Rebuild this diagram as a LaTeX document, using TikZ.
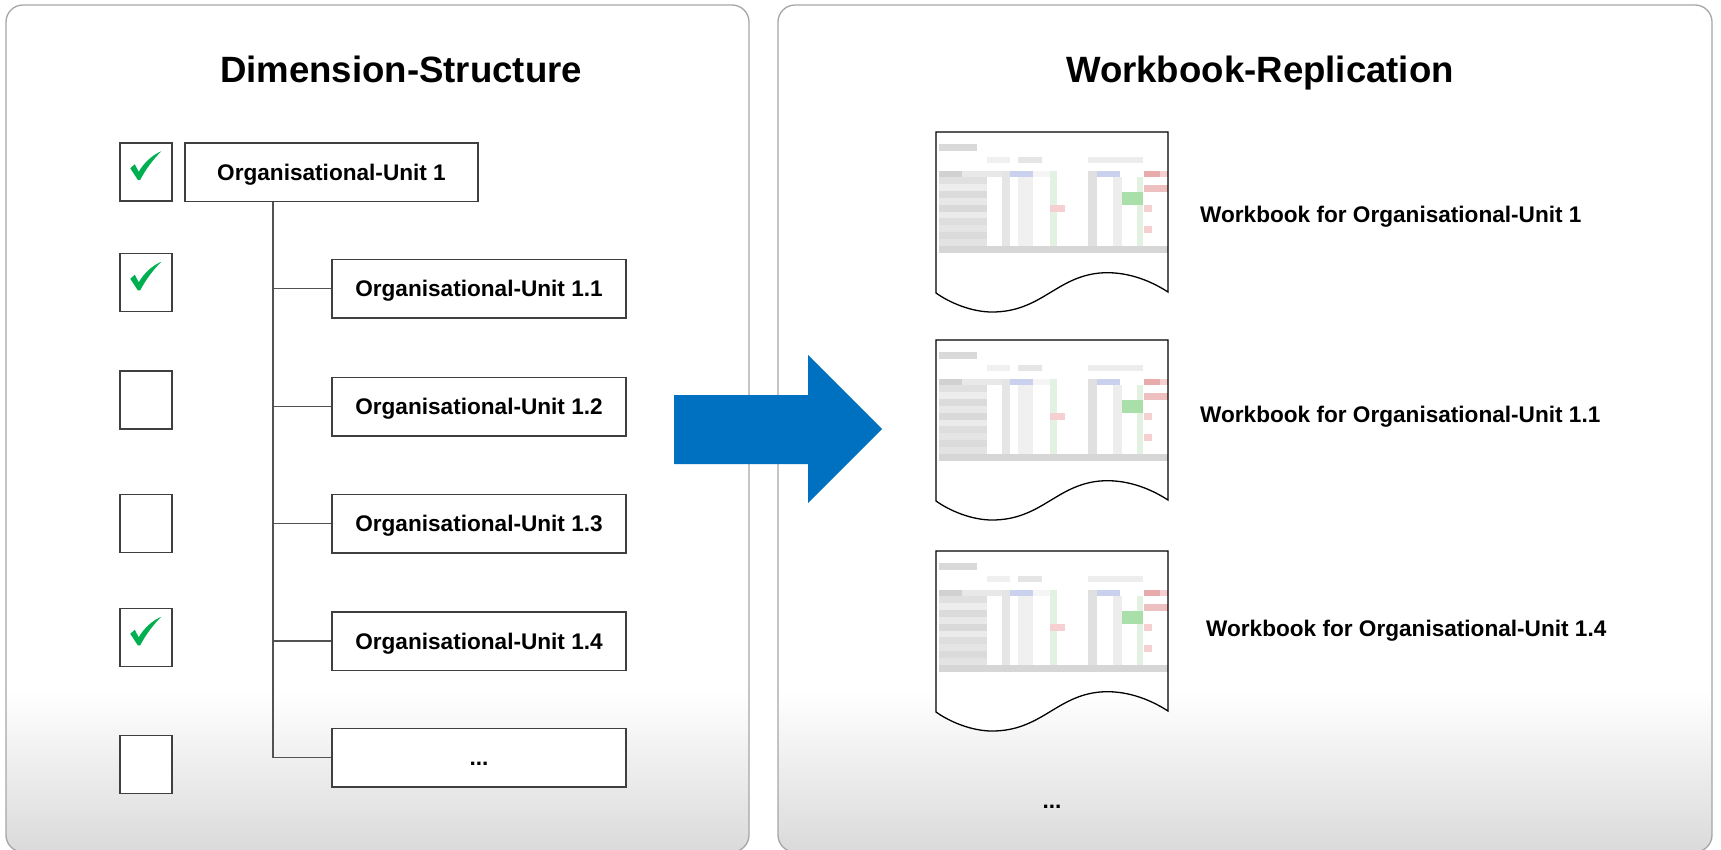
\documentclass[tikz,border=0pt]{standalone}
\usepackage{fontspec}
\setmainfont{Liberation Sans}
\definecolor{panelline}{HTML}{A6A6A6}
\definecolor{panelgray}{HTML}{DADADA}
\definecolor{boxline}{HTML}{3F3F3F}
\definecolor{tickgreen}{HTML}{00B050}
\definecolor{arrowblue}{HTML}{0070C0}
\definecolor{sblue}{HTML}{C9D1EF}
\definecolor{sred}{HTML}{E8ABAB}
\definecolor{spink}{HTML}{F6D0D0}
\definecolor{sgreen}{HTML}{A9E0A9}
\definecolor{slgreen}{HTML}{E2F1E2}
% white upper part of each panel, fading to light grey near the bottom
\pgfdeclareverticalshading{panelfade}{100bp}{color(0bp)=(panelgray); color(25bp)=(panelgray); color(34.5bp)=(white); color(100bp)=(white)}

% tiny spreadsheet preview inside a workbook symbol (local pixel coordinates)
\newcommand\sheetcells{%
  \fill[black!15] (3,12) rectangle (41,19);
  \fill[black!6] (51,25) rectangle (74,31);
  \fill[black!10] (82,25) rectangle (106,31);
  \fill[black!7] (152,25) rectangle (207,31);
  \fill[black!18] (3,39) rectangle (26,45);
  \fill[black!9] (26,39) rectangle (66,45);
  \foreach \s [count=\i from 0] in {12,7,14,9,15,8,13,10,14,11}
    \fill[black!\s] (3,45+6.9*\i) rectangle (51,51.9+6.9*\i);
  \fill[black!10] (66,39) rectangle (74,114);
  \fill[black!6] (82,45) rectangle (97,114);
  \fill[black!4] (97,39) rectangle (114,45);
  \fill[slgreen] (114,39) rectangle (121,114);
  \fill[black!12] (152,39) rectangle (161,114);
  \fill[black!7] (177,45) rectangle (186,114);
  \fill[slgreen] (201,45) rectangle (207,114);
  \fill[sblue] (74,39) rectangle (97,45);
  \fill[sblue] (161,39) rectangle (184,45);
  \fill[sred] (208,39) rectangle (224,45);
  \fill[spink] (224,39) rectangle (232,45);
  \fill[sred!75] (208,53) rectangle (232,60);
  \fill[slgreen] (201,53) rectangle (207,60);
  \fill[sgreen] (186,60) rectangle (207,73);
  \fill[spink] (114,73) rectangle (129,80);
  \fill[spink] (208,73) rectangle (216,80);
  \fill[spink] (208,94) rectangle (216,101);
  \fill[black!16] (3,114) rectangle (232,121);
}
% workbook symbol: page with a wavy lower edge
\newcommand\workbook[1]{%
  \begin{scope}[shift={#1}]
    \fill[white] (0,0) -- (232,0) -- (232,160)
      .. controls (212,147) and (188,139) .. (164,141)
      .. controls (120,145) and (105,180) .. (56,180)
      .. controls (36,180) and (14,171) .. (0,161) -- cycle;
    \sheetcells
    \draw[docline] (0,0) -- (232,0) -- (232,160)
      .. controls (212,147) and (188,139) .. (164,141)
      .. controls (120,145) and (105,180) .. (56,180)
      .. controls (36,180) and (14,171) .. (0,161) -- cycle;
  \end{scope}
}
% green tick inside a checkbox
\newcommand\tick[1]{%
  \fill[tickgreen,shift={(#1.north west)}] (11,26) -- (15.5,22) -- (19.5,29.5)
    .. controls (25,20) and (33,13) .. (42,9)
    .. controls (35,16) and (27,26) .. (21,37.5) -- (18.5,37.5) -- cycle;
}

\begin{document}
\begin{tikzpicture}[x=1pt,y=-1pt,
  panel/.style={shade,shading=panelfade,draw=panelline,line width=1.3pt,rounded corners=17pt},
  title/.style={font=\fontsize{36.6}{40}\selectfont\bfseries,anchor=base,inner sep=0pt},
  label/.style={font=\fontsize{22.6}{26}\selectfont\bfseries,text height=16.2pt,text depth=0pt,inner sep=0pt},
  cbox/.style={draw=boxline,fill=white,line width=1.5pt,minimum width=52pt,minimum height=58pt,inner sep=0pt},
  unit/.style={label,draw=boxline,fill=white,line width=1.5pt,minimum width=294pt,minimum height=58.5pt},
  conn/.style={draw=boxline!90,line width=1.3pt},
  docline/.style={draw=black,line width=1.3pt},
  bigarrow/.style={fill=arrowblue}]
\useasboundingbox (0,0) rectangle (1721,849);
\fill[white] (0,0) rectangle (1721,849);

% two panels
\path[panel] (6,5) rectangle (749,852);
\path[panel] (778,5) rectangle (1712,852);

\node[title] (ttlA) at (401,82.7) {Dimension-Structure};
\node[title] (ttlB) at (1260,82.7) {Workbook-Replication};

% selection checkboxes
\node[cbox] (cb1) at (146,172) {};
\node[cbox] (cb2) at (146,282.5) {};
\node[cbox] (cb3) at (146,400) {};
\node[cbox] (cb4) at (146,523.5) {};
\node[cbox] (cb5) at (146,637.5) {};
\node[cbox] (cb6) at (146,764.5) {};
\tick{cb1}
\tick{cb2}
\tick{cb5}

% organisational hierarchy
\node[unit,minimum width=293pt] (ou1) at (331.5,172) {Organisational-Unit 1};
\node[unit] (ou11) at (479,288.5) {Organisational-Unit 1.1};
\node[unit] (ou12) at (479,406.5) {Organisational-Unit 1.2};
\node[unit] (ou13) at (479,523.5) {Organisational-Unit 1.3};
\node[unit] (ou14) at (479,641) {Organisational-Unit 1.4};
\node[unit] (oumore) at (479,757.5) {...};

\coordinate (trunk) at (273,0);
\foreach \n in {ou11,ou12,ou13,ou14,oumore}
  \draw[conn] (ou1.south -| trunk) |- (\n.west);

% transfer arrow
\fill[bigarrow] (674,395) -- (808,395) -- (808,355) -- (882,429)
  -- (808,503) -- (808,464) -- (674,464) -- cycle;

% generated workbooks
\workbook{(936,132)}
\workbook{(936,340)}
\workbook{(936,551)}

\node[label,anchor=west] (wb1) at (1200,214) {Workbook for Organisational-Unit 1};
\node[label,anchor=west] (wb2) at (1200,414) {Workbook for Organisational-Unit 1.1};
\node[label,anchor=west] (wb3) at (1206,628) {Workbook for Organisational-Unit 1.4};
\node[label] (wbmore) at (1052,800) {...};
\end{tikzpicture}
\end{document}
